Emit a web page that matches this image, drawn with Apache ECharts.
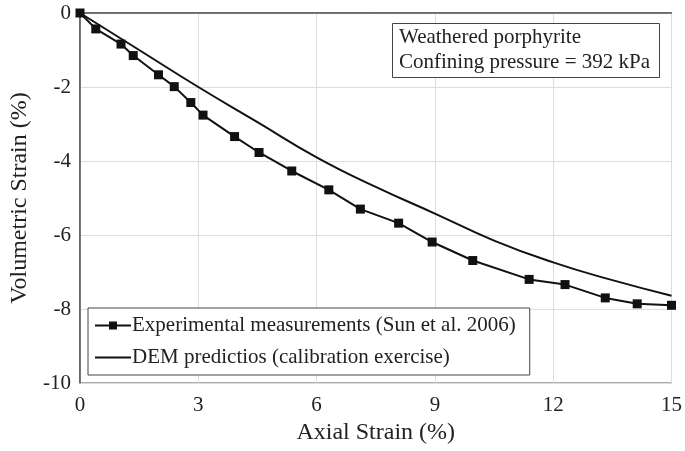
<!DOCTYPE html>
<html><head><meta charset="utf-8">
<script src="https://cdn.jsdelivr.net/npm/echarts@6/dist/echarts.min.js"></script>
<style>html,body{margin:0;padding:0;background:#fff}#c{width:685px;height:451px}</style>
</head><body><div id="c"></div>
<script>
const expX = [0, 0.4, 1.04, 1.35, 1.99, 2.39, 2.81, 3.12, 3.92, 4.54, 5.37, 6.31, 7.11, 8.08, 8.93, 9.96, 11.39, 12.30, 13.32, 14.13, 15];
const expY = [0, -0.43, -0.84, -1.15, -1.67, -1.99, -2.42, -2.76, -3.34, -3.77, -4.27, -4.78, -5.30, -5.68, -6.19, -6.69, -7.20, -7.34, -7.70, -7.86, -7.90];
const demX = [0, 1.5, 3, 4.5, 6, 7.5, 9, 10.5, 12, 13.5, 15];
const demY = [0, -1.0, -2.0, -2.95, -3.9, -4.7, -5.42, -6.15, -6.74, -7.22, -7.64];
const seriesNames = ['Experimental measurements (Sun et al. 2006)', 'DEM predictios (calibration exercise)'];
const noteLines = ['Weathered porphyrite', 'Confining pressure = 392 kPa'];
const xTicks = [0, 3, 6, 9, 12, 15];
const yTicks = [-10, -8, -6, -4, -2, 0];

const font = 'Liberation Serif, Times New Roman, serif';
const chart = echarts.init(document.getElementById('c'));
chart.setOption({
  animation: false,
  grid: {left: 80, right: 12, top: 13, bottom: 68, show: true, borderColor: '#555', borderWidth: 1},
  xAxis: {
    type: 'value', min: xTicks[0], max: xTicks[xTicks.length-1], interval: 3,
    name: 'Axial Strain (%)', nameLocation: 'middle', nameGap: 38,
    nameTextStyle: {fontFamily: font, fontSize: 24, color: '#222'},
    axisLine: {lineStyle: {color: '#555', width: 1.5}},
    axisTick: {show: false},
    axisLabel: {fontFamily: font, fontSize: 21, color: '#222', margin: 12},
    splitLine: {lineStyle: {color: '#ddd'}}
  },
  yAxis: {
    type: 'value', min: yTicks[0], max: yTicks[yTicks.length-1], interval: 2,
    name: 'Volumetric Strain (%)', nameLocation: 'middle', nameGap: 48,
    nameTextStyle: {fontFamily: font, fontSize: 24, color: '#222'},
    axisLine: {lineStyle: {color: '#555', width: 1.5}},
    axisTick: {show: false},
    axisLabel: {fontFamily: font, fontSize: 21, color: '#222', margin: 9},
    splitLine: {lineStyle: {color: '#ddd'}}
  },
  legend: {
    orient: 'vertical', left: 88, top: 308,
    backgroundColor: '#fff', borderColor: '#444', borderWidth: 1,
    padding: [7, 14, 7, 6], itemGap: 11, itemWidth: 36, itemHeight: 10,
    textStyle: {fontFamily: font, fontSize: 21, color: '#222', padding: [0, 0, 0, -4]},
    data: [
      {name: seriesNames[0]},
      {name: seriesNames[1], itemStyle: {opacity: 0}}
    ]
  },
  title: {
    text: noteLines.join('\n'), left: 392, top: 23,
    borderColor: '#444', borderWidth: 1, padding: [2, 10, 3, 7],
    backgroundColor: '#fff',
    textStyle: {fontFamily: font, fontSize: 21, fontWeight: 'normal', color: '#222', lineHeight: 25}
  },
  series: [
    {
      name: seriesNames[0], type: 'line',
      data: expX.map((x, i) => [x, expY[i]]),
      symbol: 'rect', symbolSize: 9, showSymbol: true,
      lineStyle: {color: '#111', width: 2}, itemStyle: {color: '#111'}
    },
    {
      name: seriesNames[1], type: 'line', smooth: true,
      data: demX.map((x, i) => [x, demY[i]]),
      symbol: 'none',
      lineStyle: {color: '#111', width: 2}, itemStyle: {color: '#111'}
    }
  ]
});
</script></body></html>
